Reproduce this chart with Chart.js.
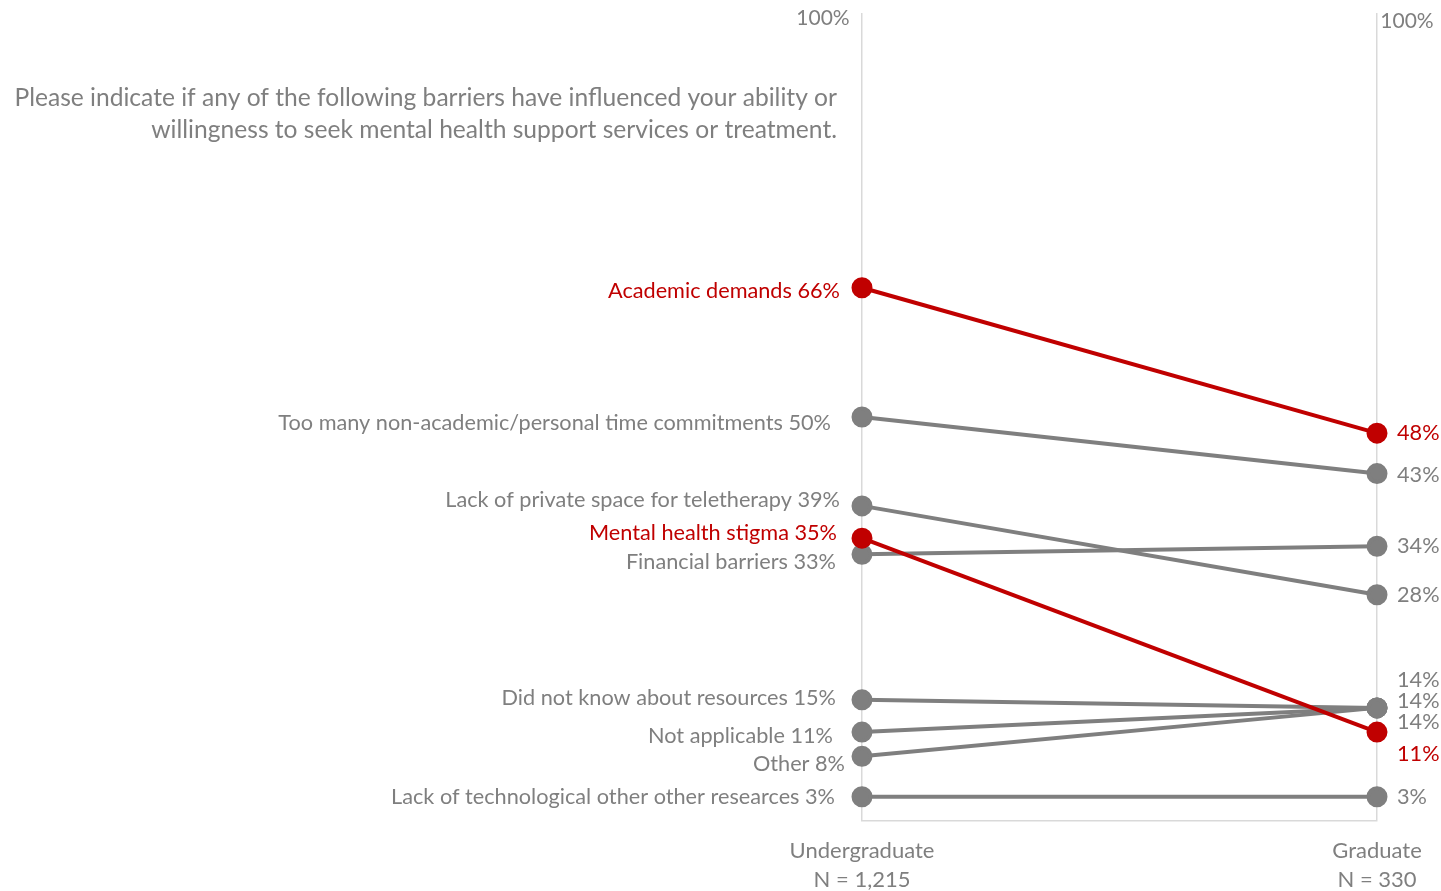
<!DOCTYPE html>
<html>
<head>
<meta charset="utf-8">
<title>Barriers to seeking mental health support</title>
<script src="https://cdn.jsdelivr.net/npm/chart.js@4.4.1/dist/chart.umd.min.js"></script>
<style>
  html, body { margin: 0; padding: 0; background: #ffffff; }
  #slope { display: block; }
</style>
</head>
<body>
<canvas id="slope" width="1441" height="891"></canvas>
<script>
// Grupos (eje x) y tamaño de muestra
const grupos = ['Undergraduate', 'Graduate'];
const muestras = ['N = 1,215', 'N = 330'];

// Barreras y porcentajes por grupo
const barreras = [
    'Academic demands',
    'Too many non-academic/personal time commitments',
    'Lack of private space for teletherapy',
    'Mental health stigma',
    'Financial barriers',
    'Did not know about resources',
    'Not applicable',
    'Other',
    'Lack of technological other other researces'
];
const pregrado = [66, 50, 39, 35, 33, 15, 11, 8, 3];
const posgrado = [48, 43, 28, 11, 34, 14, 14, 14, 3];
const destacadas = ['Academic demands', 'Mental health stigma'];

const pregunta = [
    'Please indicate if any of the following barriers have influenced your ability or',
    'willingness to seek mental health support services or treatment.'
];

const ROJO = '#c00000';
const GRIS = '#7f7f7f';
const FUENTE = 'Lato, "Open Sans", sans-serif';

// Ajustes de las etiquetas para que no se encimen (px)
const ajusteIzq = [[0, 3], [-9, 6], [0, -6], [-3, -5], [-4, 8], [-4, -2], [-7, 4], [5, 8], [-5, 0]];
const ajusteDer = [[0, 0], [0, 1], [0, 0], [0, 22], [0, 0], [0, -28], [0, -7], [0, 14], [0, 0]];

const datasets = barreras.map((b, i) => {
    const color = destacadas.includes(b) ? ROJO : GRIS;
    return {
        label: b,
        data: [pregrado[i], posgrado[i]],
        borderColor: color,
        backgroundColor: color,
        pointBackgroundColor: color,
        pointBorderColor: color,
        borderWidth: 4,
        pointRadius: 8.5,
        pointHoverRadius: 8.5,
        order: destacadas.includes(b) ? 0 : 1
    };
});

// Dibuja textos: pregunta, etiquetas de cada línea, 100% y grupos
const textos = {
    id: 'textos',
    afterDatasetsDraw(chart) {
        const ctx = chart.ctx;
        const x = chart.scales.x;
        const y = chart.scales.y;
        const xIzq = x.getPixelForValue(0);
        const xDer = x.getPixelForValue(1);
        ctx.save();
        ctx.textBaseline = 'middle';

        // pregunta
        ctx.font = '24.6px ' + FUENTE;
        ctx.fillStyle = GRIS;
        ctx.textAlign = 'right';
        ctx.fillText(pregunta[0], 837, 98);
        ctx.fillText(pregunta[1], 837, 130);

        // 100%
        ctx.font = '21px ' + FUENTE;
        ctx.textAlign = 'center';
        ctx.fillText('100%', xIzq - 39, y.getPixelForValue(100) + 5);
        ctx.fillText('100%', xDer + 30, y.getPixelForValue(100) + 8);

        // etiquetas de cada barrera
        ctx.font = '21.7px ' + FUENTE;
        barreras.forEach((b, i) => {
            ctx.fillStyle = destacadas.includes(b) ? ROJO : GRIS;
            ctx.textAlign = 'right';
            ctx.fillText(b + ' ' + pregrado[i] + '%', xIzq - 22 + ajusteIzq[i][0], y.getPixelForValue(pregrado[i]) + ajusteIzq[i][1]);
            ctx.textAlign = 'left';
            ctx.fillText(posgrado[i] + '%', xDer + 20 + ajusteDer[i][0], y.getPixelForValue(posgrado[i]) + ajusteDer[i][1]);
        });

        // grupos
        ctx.font = '22px ' + FUENTE;
        ctx.fillStyle = GRIS;
        ctx.textAlign = 'center';
        grupos.forEach((g, i) => {
            const px = x.getPixelForValue(i);
            ctx.fillText(g, px, 851);
            ctx.fillText(muestras[i], px, 880);
        });
        ctx.restore();
    }
};

new Chart(document.getElementById('slope').getContext('2d'), {
    type: 'line',
    data: { labels: grupos, datasets: datasets },
    options: {
        responsive: false,
        animation: false,
        layout: { padding: { left: 862, right: 64, top: 13, bottom: 70 } },
        plugins: {
            legend: { display: false },
            tooltip: { enabled: false }
        },
        scales: {
            x: {
                offset: false,
                grid: { color: '#d9d9d9', lineWidth: 1.5, drawTicks: false },
                border: { color: '#d9d9d9', width: 1.5 },
                ticks: { display: false }
            },
            y: {
                display: false,
                min: 0,
                max: 100
            }
        }
    },
    plugins: [textos]
});
</script>
</body>
</html>
